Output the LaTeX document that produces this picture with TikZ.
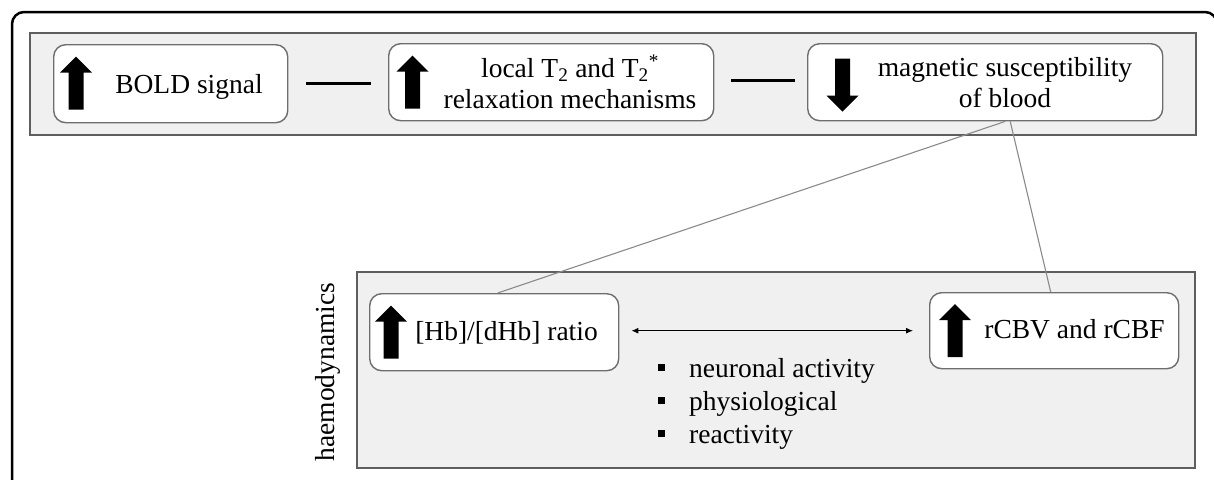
\documentclass[tikz,border=0pt]{standalone}
\usepackage{fontspec}
\setmainfont{Liberation Serif}
\usetikzlibrary{arrows.meta}
\definecolor{bandfill}{HTML}{F0F0F0}
\definecolor{bandline}{HTML}{5E5E5E}
\definecolor{boxline}{HTML}{6E6E6E}
\definecolor{linkgray}{HTML}{8A8A8A}
\begin{document}
\begin{tikzpicture}[x=1pt,y=-1pt,
  band/.style={draw=bandline, fill=bandfill, line width=2pt, anchor=north west, inner sep=0pt},
  box/.style={draw=boxline, fill=white, line width=1.4pt, rounded corners=12pt, anchor=north west, inner sep=0pt},
  lbl/.style={font=\fontsize{27.5}{31}\selectfont, inner sep=0pt, align=center},
  link/.style={draw=linkgray, line width=1.1pt},
  dashlink/.style={draw=black, line width=3pt},
  pics/uparr/.style={code={\fill (-7.5,26.5) -- (-7.5,-10.5) -- (-16,-10.5) -- (0,-26.5) -- (16,-10.5) -- (7.5,-10.5) -- (7.5,26.5) -- cycle;}},
  pics/downarr/.style={code={\fill (-7.5,-26.5) -- (-7.5,10.5) -- (-16,10.5) -- (0,26.5) -- (16,10.5) -- (7.5,10.5) -- (7.5,-26.5) -- cycle;}}
]
\useasboundingbox (0,0) rectangle (1214,479);
\clip (0,0) rectangle (1214,479);
% outer frame
\draw[line width=2.5pt, rounded corners=12pt] (12,495) -- (12,12) -- (1217,12) -- (1217,495);
% bands
\node[band, minimum width=1166pt, minimum height=102pt] (topband) at (29,32) {};
\node[band, minimum width=838pt, minimum height=196pt] (botband) at (356,271) {};
% boxes
\node[box, minimum width=234pt, minimum height=78pt] (bold) at (53,44) {};
\node[box, minimum width=325pt, minimum height=77pt] (t2) at (388,43) {};
\node[box, minimum width=355pt, minimum height=77pt] (mag) at (807,43) {};
\node[box, minimum width=249pt, minimum height=77pt] (hb) at (369,293) {};
\node[box, minimum width=249pt, minimum height=76pt] (rcbv) at (929,292) {};
% arrows (icons)
\pic at ([xshift=23pt,yshift=0.5pt]bold.west) {uparr};
\pic at ([xshift=24.5pt]t2.west) {uparr};
\pic at ([xshift=35.5pt,yshift=-3pt]mag.west) {downarr};
\pic at ([xshift=22pt]hb.west) {uparr};
\pic at ([xshift=26pt]rcbv.west) {uparr};
% texts
\node[lbl, anchor=base] (boldtxt) at (189,93) {BOLD signal};
\node[lbl, anchor=base] (t2txt) at (570,108) {local T\textsubscript{2} and T\textsubscript{2}\textsuperscript{*}\\relaxation mechanisms};
\node[lbl, anchor=base] (magtxt) at (1005,107) {magnetic susceptibility\\of blood};
\node[lbl, anchor=base] (hbtxt) at (506.5,340) {[Hb]/[dHb] ratio};
\node[lbl, anchor=base] (rcbvtxt) at (1074.5,338) {rCBV and rCBF};
\node[lbl, rotate=90] (haemo) at (328,372) {haemodynamics};
\node[lbl, anchor=base west] (b1) at (658,377) {\rule[6.5pt]{7pt}{7pt}\hspace{24pt}neuronal activity};
\node[lbl, anchor=base west] (b2) at (658,410) {\rule[6.5pt]{7pt}{7pt}\hspace{24pt}physiological};
\node[lbl, anchor=base west] (b3) at (658,443) {\rule[6.5pt]{7pt}{7pt}\hspace{24pt}reactivity};
% connectors
\draw[dashlink, shorten <=18pt, shorten >=17pt] (bold.east) -- (bold.east -| t2.west);
\draw[dashlink, shorten <=17pt, shorten >=12pt] ([yshift=1.5pt]t2.east) -- ([yshift=1.5pt]t2.east -| mag.west);
\draw[link] ([xshift=20pt]mag.south) -- ([xshift=3.5pt]hb.north);
\draw[link] ([xshift=25pt]mag.south) -- ([xshift=-3.5pt]rcbv.north);
\draw[line width=1pt, {Latex[length=7pt,width=6pt]}-{Latex[length=7pt,width=6pt]}, shorten <=12pt, shorten >=16pt] ([yshift=1.5pt]hb.east) -- ([yshift=1.5pt]hb.east -| rcbv.west);
\end{tikzpicture}
\end{document}
